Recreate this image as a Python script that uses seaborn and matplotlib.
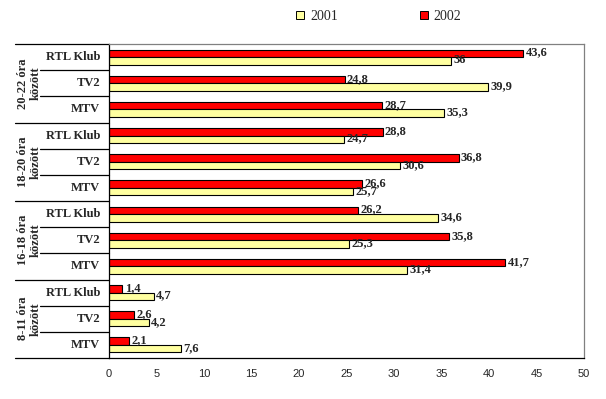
import matplotlib
matplotlib.use("Agg")
import matplotlib.pyplot as plt
import matplotlib.transforms as mtransforms
from matplotlib.lines import Line2D
import pandas as pd
import seaborn as sns

# time slots (top to bottom) and channels inside each slot
groups = ["20-22 óra\nközött", "18-20 óra\nközött", "16-18 óra\nközött", "8-11 óra\nközött"]
channels = ["RTL Klub", "TV2", "MTV"]

# values per row, top to bottom
v2002 = [43.6, 24.8, 28.7, 28.8, 36.8, 26.6, 26.2, 35.8, 41.7, 1.4, 2.6, 2.1]
v2001 = [36, 39.9, 35.3, 24.7, 30.6, 25.7, 34.6, 25.3, 31.4, 4.7, 4.2, 7.6]

years = ["2001", "2002"]
colors = {"2001": "#FFFFA0", "2002": "#FF0000"}
xticks = [0, 5, 10, 15, 20, 25, 30, 35, 40, 45, 50]

rows = []
for gi in range(len(groups)):
    for ci, ch in enumerate(channels):
        rows.append(f"{gi}|{ch}")

df = pd.DataFrame({
    "row": rows * 2,
    "value": v2002 + v2001,
    "year": ["2002"] * len(rows) + ["2001"] * len(rows),
})

sns.set_style("white")
fig = plt.figure(figsize=(6.06, 3.99), dpi=100)
ax = fig.add_axes([109 / 606, 1 - 358 / 399, 475 / 606, 314 / 399])

sns.barplot(data=df, x="value", y="row", hue="year", hue_order=["2002", "2001"],
            palette=colors, orient="h", width=0.57, edgecolor="black",
            linewidth=0.8, legend=False, ax=ax, order=rows, saturation=1)

ax.set_xlim(0, 50)
ax.set_ylim(len(rows) - 0.5, -0.5)
ax.set_xticks(xticks)
ax.set_xticklabels([str(t) for t in xticks], fontsize=8, family="Liberation Sans")
ax.tick_params(axis="x", direction="out", length=4, width=0.8, color="black", pad=4)
ax.set_yticks([])
ax.set_xlabel("")
ax.set_ylabel("")
for s in ["left", "bottom"]:
    ax.spines[s].set_color("black")
    ax.spines[s].set_linewidth(0.9)
for s in ["top", "right"]:
    ax.spines[s].set_color("#808080")
    ax.spines[s].set_linewidth(0.9)

# value labels
def fmt(v):
    return (f"{v:g}").replace(".", ",")

for cont in ax.containers:
    for bar in cont:
        w = bar.get_width()
        yc = bar.get_y() + bar.get_height() / 2
        ax.text(w + 0.25, yc - 0.03, fmt(w), va="center", ha="left",
                fontsize=9, fontweight="bold", family="Liberation Serif")

# left-side category labels and separator lines
trans = mtransforms.blended_transform_factory(ax.transAxes, ax.transData)
x_grp = (15 - 109) / 475
x_ch = (40 - 109) / 475
for i in range(len(rows) + 1):
    y = i - 0.5
    x0 = x_grp if i % 3 == 0 else x_ch
    ax.plot([x0, 0], [y, y], color="black", lw=0.9, transform=trans, clip_on=False)

x_lab = (100 - 109) / 475
for i, r in enumerate(rows):
    ax.text(x_lab, i, r.split("|")[1], transform=trans, ha="right", va="center",
            fontsize=9, fontweight="bold", family="Liberation Serif")

x_g = (29 - 109) / 475
for gi, g in enumerate(groups):
    ax.text(x_g, gi * 3 + 1, g, transform=trans, ha="center", va="center",
            rotation=90, fontsize=9, fontweight="bold", family="Liberation Serif",
            linespacing=1.1, multialignment="center")

# legend
handles = [Line2D([], [], marker="s", linestyle="none", markersize=6,
                  markerfacecolor=colors[y], markeredgecolor="black",
                  markeredgewidth=0.7) for y in years]
fig.legend(handles, years, ncol=2, frameon=False, loc="center",
           bbox_to_anchor=(378 / 606, 1 - 16 / 399), prop={"family": "Liberation Serif", "size": 10},
           handlelength=0.8, handletextpad=0.3, columnspacing=5.8)

fig.savefig("out.png", dpi=100)
